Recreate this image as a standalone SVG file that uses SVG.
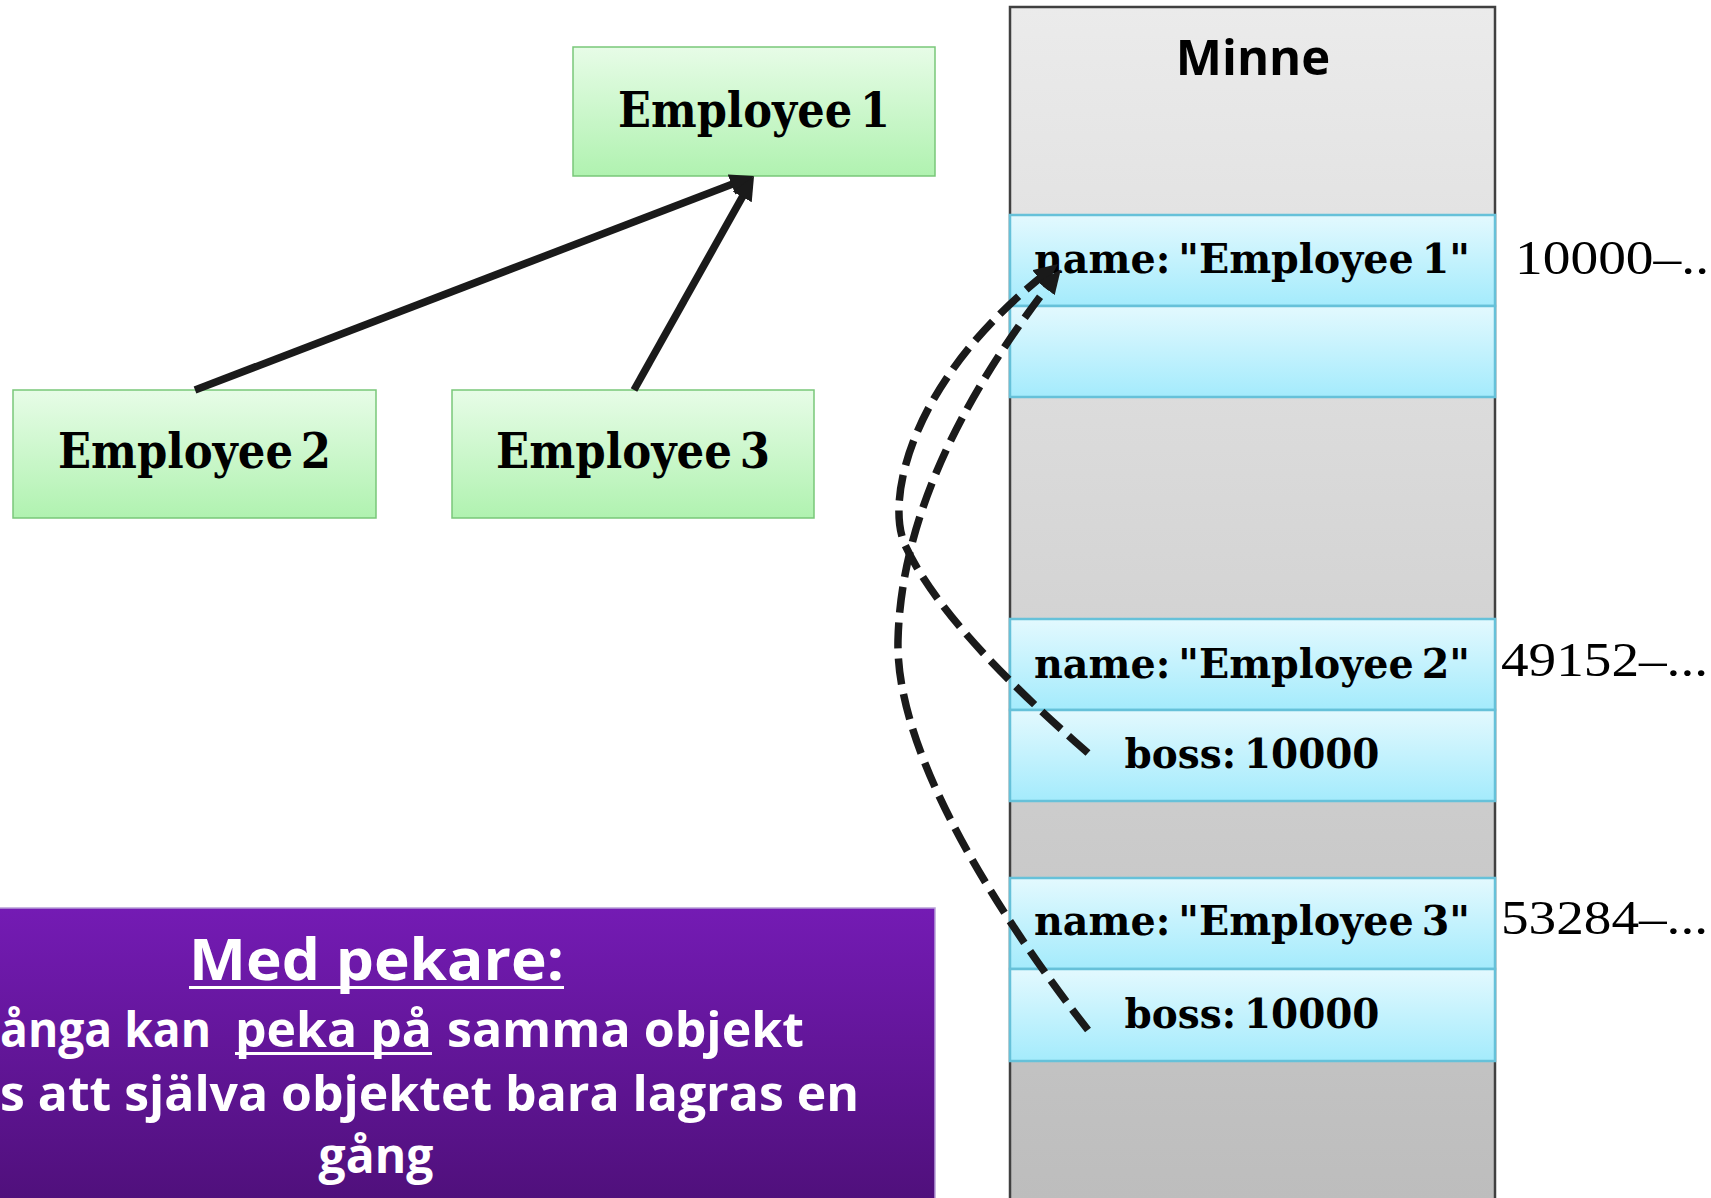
<svg xmlns="http://www.w3.org/2000/svg" width="1711" height="1198" viewBox="0 0 1711 1198">
  <defs>
    <linearGradient id="green" x1="0" y1="0" x2="0" y2="1">
      <stop offset="0" stop-color="#e7fce7"/>
      <stop offset="1" stop-color="#b0f2b0"/>
    </linearGradient>
    <linearGradient id="blue" x1="0" y1="0" x2="0" y2="1">
      <stop offset="0" stop-color="#e3f9fe"/>
      <stop offset="1" stop-color="#a4ebfc"/>
    </linearGradient>
    <linearGradient id="gray" gradientUnits="userSpaceOnUse" x1="0" y1="7" x2="0" y2="1198">
      <stop offset="0" stop-color="#ebebeb"/>
      <stop offset="1" stop-color="#bdbdbd"/>
    </linearGradient>
    <linearGradient id="purple" gradientUnits="userSpaceOnUse" x1="0" y1="908" x2="0" y2="1198">
      <stop offset="0" stop-color="#741bb4"/>
      <stop offset="1" stop-color="#50107c"/>
    </linearGradient>
    <marker id="head" viewBox="0 0 10 9" refX="4" refY="4.5" markerWidth="3.2" markerHeight="2.88" orient="auto" markerUnits="strokeWidth">
      <path d="M0,0 L10,4.5 L0,9 z" fill="#1a1a1a"/>
    </marker>
  </defs>
  <style>
    .emp rect { fill: url(#green); stroke: #79c779; stroke-width: 1.5; }
    .emp text { font-family: "DejaVu Serif", "Liberation Serif", serif; font-weight: bold; font-size: 48px; fill: #000; text-anchor: middle; word-spacing: -8px; }
    .column { fill: url(#gray); stroke: #404040; stroke-width: 2.5; }
    .cell { fill: url(#blue); stroke: #66c1d9; stroke-width: 2.5; }
    .field { font-family: "DejaVu Serif", "Liberation Serif", serif; font-weight: bold; font-size: 41px; fill: #000; text-anchor: middle; word-spacing: -6px; }
    .addr { font-family: "Liberation Serif", serif; font-size: 49px; fill: #000; }
    .title { font-family: "Open Sans", "Liberation Sans", sans-serif; font-weight: bold; font-size: 49px; fill: #000; text-anchor: middle; }
    .link { fill: none; stroke: #1a1a1a; stroke-width: 7.5; marker-end: url(#head); }
    .ptr { stroke-dasharray: 26 10; }
    .note text { font-family: "Open Sans", "Liberation Sans", sans-serif; font-weight: bold; fill: #ffffff; }
    .uline { stroke: #ffffff; stroke-width: 3; }
  </style>

  <!-- object graph -->
  <g id="employee1" class="emp">
    <rect x="573" y="47" width="362" height="129"/>
    <text x="754" y="127" textLength="272" lengthAdjust="spacingAndGlyphs">Employee 1</text>
  </g>
  <g id="employee2" class="emp">
    <rect x="13" y="390" width="363" height="128"/>
    <text x="194.5" y="468" textLength="273" lengthAdjust="spacingAndGlyphs">Employee 2</text>
  </g>
  <g id="employee3" class="emp">
    <rect x="452" y="390" width="362" height="128"/>
    <text x="633" y="468" textLength="274" lengthAdjust="spacingAndGlyphs">Employee 3</text>
  </g>

  <!-- memory column -->
  <g id="memory">
    <rect class="column" x="1010" y="7" width="485" height="1200"/>
    <text class="title" x="1253" y="75">Minne</text>
  </g>
  <g id="mem-employee1">
    <rect class="cell" x="1010" y="215" width="485" height="91"/>
    <rect class="cell" x="1010" y="306" width="485" height="91"/>
    <text class="field" x="1252" y="273" textLength="436" lengthAdjust="spacingAndGlyphs">name: "Employee 1"</text>
    <text class="addr" x="1515" y="274" textLength="194" lengthAdjust="spacingAndGlyphs">10000–..</text>
  </g>
  <g id="mem-employee2">
    <rect class="cell" x="1010" y="619" width="485" height="91"/>
    <rect class="cell" x="1010" y="710" width="485" height="91"/>
    <text class="field" x="1252" y="678" textLength="436" lengthAdjust="spacingAndGlyphs">name: "Employee 2"</text>
    <text class="field" x="1252" y="768" textLength="255" lengthAdjust="spacingAndGlyphs">boss: 10000</text>
    <text class="addr" x="1501" y="676" textLength="207" lengthAdjust="spacingAndGlyphs">49152–...</text>
  </g>
  <g id="mem-employee3">
    <rect class="cell" x="1010" y="878" width="485" height="91"/>
    <rect class="cell" x="1010" y="969" width="485" height="92"/>
    <text class="field" x="1252" y="935" textLength="436" lengthAdjust="spacingAndGlyphs">name: "Employee 3"</text>
    <text class="field" x="1252" y="1028" textLength="255" lengthAdjust="spacingAndGlyphs">boss: 10000</text>
    <text class="addr" x="1501" y="934" textLength="207" lengthAdjust="spacingAndGlyphs">53284–...</text>
  </g>

  <!-- caption box -->
  <g id="note" class="note">
    <rect x="-2" y="908" width="937" height="295" fill="url(#purple)" stroke="#b8a0d8" stroke-width="1.5"/>
    <text x="376.5" y="980" font-size="58" text-anchor="middle" textLength="375" lengthAdjust="spacingAndGlyphs">Med pekare:</text>
    <line class="uline" x1="189" y1="987.5" x2="564" y2="987.5"/>
    <text y="1047" font-size="48"><tspan x="0" textLength="211" lengthAdjust="spacingAndGlyphs">ånga kan</tspan><tspan x="235" textLength="197" lengthAdjust="spacingAndGlyphs">peka på</tspan><tspan x="447" textLength="357" lengthAdjust="spacingAndGlyphs">samma objekt</tspan></text>
    <line class="uline" x1="235" y1="1053.5" x2="432" y2="1053.5"/>
    <text x="0" y="1111" font-size="48" textLength="859" lengthAdjust="spacingAndGlyphs">s att själva objektet bara lagras en</text>
    <text x="376" y="1173" font-size="48" text-anchor="middle">gång</text>
  </g>

  <!-- connectors -->
  <g id="connectors">
    <path class="link" d="M195,390 L740.5,181.1"/>
    <path class="link" d="M634,390 L747,188.6"/>
    <path class="link ptr" d="M1088,753 C1010,685 935,610 905,545 C885,500 910,380 1046.6,272.8"/>
    <path class="link ptr" d="M1088,1030 C1010,930 895,760 898,640 C901,520 960,400 1052,281"/>
  </g>
</svg>
